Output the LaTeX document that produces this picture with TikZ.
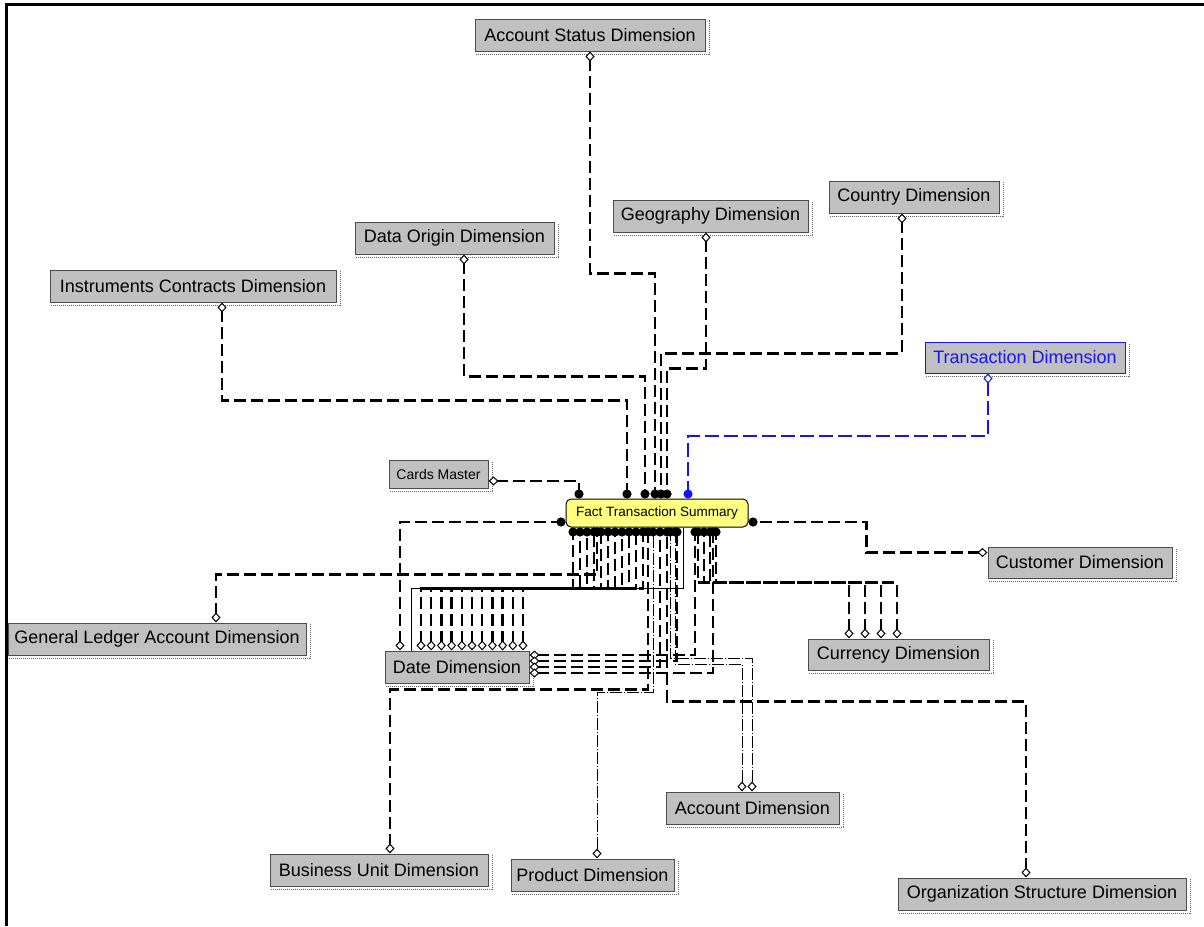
\documentclass[tikz,border=0pt]{standalone}
\usepackage{fontspec}
\setmainfont{Liberation Sans}
\usetikzlibrary{arrows.meta}
\definecolor{boxgray}{RGB}{192,192,192}
\definecolor{factyellow}{RGB}{255,255,128}
\definecolor{tblue}{RGB}{20,20,255}
\begin{document}
\begin{tikzpicture}[x=1pt,y=-1pt,
  dim/.style={draw=black!70, fill=boxgray, line width=1pt, minimum height=32pt, inner sep=0pt, font=\fontsize{18}{20}\selectfont},
  tdim/.style={draw=tblue, text=tblue},
  factbox/.style={draw=black, fill=factyellow, line width=1pt, rounded corners=5pt, inner sep=0pt, font=\fontsize{13.5}{15}\selectfont},
  shadowline/.style={draw=black!60, line width=1.2pt, dash pattern=on 1pt off 1pt},
  rel/.style={line width=2.4pt, dash pattern=on 12pt off 5pt, {Diamond[fill=white,length=10pt,width=9pt,line width=1pt]}-{Circle[length=9pt]}},
  thinrel/.style={line width=1pt, dash pattern=on 12pt off 2pt on 1pt off 2pt, {Diamond[fill=white,length=10pt,width=9pt,line width=1pt]}-{Circle[length=9pt]}},
  bluerel/.style={rel, draw=tblue, line width=2pt, dash pattern=on 14pt off 5pt}]
\useasboundingbox (0,0) rectangle (1204,926);
\fill[white] (0,0) rectangle (1204,926);
\draw[line width=3pt] (6,926) -- (6,4) -- (1204,4);

% nodes
\node[dim, minimum width=230pt] (as) at (590,35) {Account Status Dimension};
\node[dim, minimum width=170pt] (cd) at (914,197) {Country Dimension};
\node[dim, minimum width=195pt] (gd) at (710.5,216) {Geography Dimension};
\node[dim, minimum width=199pt] (dod) at (454.5,238) {Data Origin Dimension};
\node[dim, minimum width=286pt] (icd) at (193,286) {Instruments Contracts Dimension};
\node[dim, tdim, minimum width=200pt, minimum height=31pt] (td) at (1025,357.5) {Transaction Dimension};
\node[dim, minimum width=99pt, minimum height=28pt, font=\fontsize{14}{16}\selectfont] (cm) at (438.5,474) {Cards Master};
\node[factbox, minimum width=182pt, minimum height=28pt] (fact) at (657,513) {Fact Transaction Summary};
\node[dim, minimum width=184pt, minimum height=31pt] (cust) at (1080,562.5) {Customer Dimension};
\node[dim, minimum width=298pt] (gl) at (157,639) {General Ledger Account Dimension};
\node[dim, minimum width=181pt, minimum height=31pt] (cur) at (898.5,654.5) {Currency Dimension};
\node[dim, minimum width=144pt] (dd) at (457,667) {Date Dimension};
\node[dim, minimum width=173pt] (ad) at (752.5,808) {Account Dimension};
\node[dim, minimum width=218pt] (bu) at (379,870) {Business Unit Dimension};
\node[dim, minimum width=163pt] (pd) at (592.5,875) {Product Dimension};
\node[dim, minimum width=288pt] (os) at (1042,894) {Organization Structure Dimension};

\foreach \n in {as,cd,gd,dod,icd,td,cm,cust,gl,cur,dd,ad,bu,pd,os}
  \draw[shadowline] ([xshift=1pt,yshift=-3pt]\n.south west) -- ([xshift=4pt,yshift=-3pt]\n.south east) -- ([xshift=4pt,yshift=-1pt]\n.north east);

% top connectors
\draw[rel] ([yshift=-7pt]cm.east) -| ([xshift=-78pt]fact.north);
\draw[rel] ([xshift=29pt]icd.south) -- ++(0,98) -| ([xshift=-30pt]fact.north);
\draw[rel] ([xshift=9.5pt]dod.south) -- ++(0,122) -| ([xshift=-12pt]fact.north);
\draw[rel] (as.south) -- ++(0,222) -| ([xshift=-2pt]fact.north);
\draw[rel] ([xshift=-12pt]cd.south) -- ++(0,140) -| ([xshift=4pt]fact.north);
\draw[rel] ([xshift=-4.5pt]gd.south) -- ++(0,136) -| ([xshift=10pt]fact.north);
\draw[bluerel] ([xshift=-37pt]td.south) -- ++(0,62) -| ([xshift=31pt]fact.north);

% side connectors
\draw[rel] ([xshift=-57pt]dd.north) |- ([yshift=-9pt]fact.west);
\draw[rel] ([yshift=10pt]cust.west) -- ++(-121,0) |- ([yshift=-9pt]fact.east);

% bottom connectors
\draw[rel] ([xshift=59pt]gl.north) -- ++(0,-48) -| ([xshift=-60pt]fact.south);
\foreach \i in {0,...,10}
  \draw[rel] ([xshift={(-36+10.2*\i)*1pt}]dd.north) -- ++(0,-62) -| ([xshift={(-84+7*\i)*1pt}]fact.south);
\draw[line width=1pt] ([xshift=-46pt]dd.north) -- ++(0,-62) -| ([xshift=26pt]fact.south);
\foreach \i/\t in {0/41,1/47,2/53,3/59}
  \draw[rel] ([xshift={(-49.5+16*\i)*1pt}]cur.north) -- ++(0,-56) -| ([xshift=\t pt]fact.south);
\draw[rel] ([yshift=12pt]dd.east) -| ([xshift=38pt]fact.south);
\draw[rel] ([yshift=6pt]dd.east) -| ([xshift=20pt]fact.south);
\draw[rel] (dd.east) -| ([xshift=3pt]fact.south);
\draw[rel] ([yshift=-6pt]dd.east) -| ([xshift=56pt]fact.south);
\draw[rel] ([xshift=11pt]bu.north) -- ++(0,-164) -| ([xshift=-9pt]fact.south);
\draw[thinrel] ([xshift=4.5pt]pd.north) -- ++(0,-166) -| ([xshift=-4pt]fact.south);
\draw[thinrel] ([xshift=-10.5pt]ad.north) -- ++(0,-127) -| ([xshift=18pt]fact.south);
\draw[thinrel] ([xshift=-0.5pt]ad.north) -- ++(0,-133) -| ([xshift=13pt]fact.south);
\draw[rel] ([xshift=-16pt]os.north) -- ++(0,-176) -| ([xshift=10pt]fact.south);
\end{tikzpicture}
\end{document}
